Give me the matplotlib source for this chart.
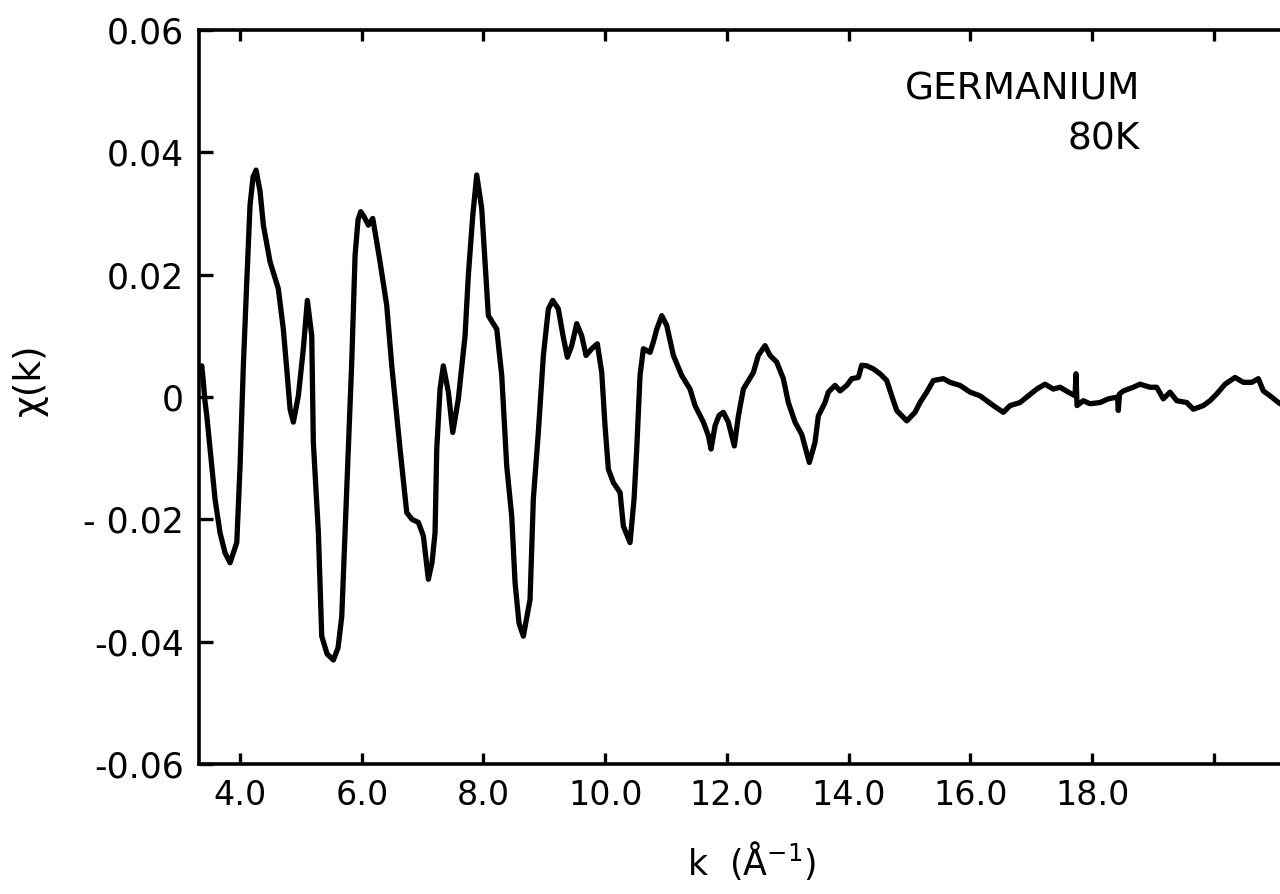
import matplotlib
matplotlib.use("Agg")
import matplotlib.pyplot as plt

# chi(k) for germanium at 80 K
k = [
    3.335, 3.371, 3.392, 3.425, 3.453, 3.535, 3.589, 3.671, 3.754, 3.836,
    3.946, 4.000, 4.054, 4.110, 4.164, 4.214, 4.263, 4.329, 4.383, 4.493,
    4.629, 4.711, 4.767, 4.822, 4.876, 4.958, 5.040, 5.106, 5.178, 5.204,
    5.287, 5.342, 5.430, 5.533, 5.610, 5.671, 5.725, 5.780, 5.835, 5.890,
    5.939, 5.983, 6.037, 6.108, 6.180, 6.235, 6.300, 6.410, 6.493, 6.629,
    6.739, 6.826, 6.930, 7.012, 7.094, 7.155, 7.204, 7.232, 7.286, 7.340,
    7.423, 7.495, 7.587, 7.697, 7.751, 7.824, 7.889, 7.971, 8.026, 8.080,
    8.218, 8.272, 8.300, 8.382, 8.464, 8.519, 8.584, 8.655, 8.765, 8.819,
    8.901, 8.984, 9.066, 9.138, 9.230, 9.307, 9.378, 9.450, 9.532, 9.614,
    9.685, 9.779, 9.871, 9.943, 9.997, 10.052, 10.134, 10.244, 10.298, 10.408,
    10.474, 10.518, 10.572, 10.627, 10.737, 10.791, 10.847, 10.929, 11.011, 11.120,
    11.258, 11.394, 11.476, 11.613, 11.695, 11.739, 11.805, 11.871, 11.941, 12.023,
    12.122, 12.188, 12.270, 12.434, 12.516, 12.626, 12.708, 12.819, 12.927, 13.009,
    13.119, 13.229, 13.354, 13.448, 13.502, 13.612, 13.666, 13.776, 13.859, 13.969,
    14.051, 14.159, 14.215, 14.297, 14.406, 14.516, 14.626, 14.708, 14.790, 14.955,
    15.091, 15.173, 15.283, 15.392, 15.556, 15.666, 15.830, 15.995, 16.159, 16.378,
    16.542, 16.652, 16.816, 16.953, 17.091, 17.227, 17.363, 17.473, 17.610, 17.720,
    17.736, 17.753, 17.856, 17.966, 18.131, 18.267, 18.418, 18.431, 18.451, 18.514,
    18.678, 18.788, 18.952, 19.062, 19.171, 19.281, 19.391, 19.555, 19.664, 19.828,
    19.938, 20.048, 20.185, 20.349, 20.486, 20.623, 20.732, 20.814, 20.924, 21.088,
]
chi = [
    0.0040, 0.0051, 0.0030, -0.0008, -0.0030, -0.0113, -0.0167, -0.0222, -0.0255, -0.0271,
    -0.0238, -0.0113, 0.0051, 0.0188, 0.0314, 0.0360, 0.0371, 0.0336, 0.0281, 0.0221,
    0.0177, 0.0111, 0.0046, -0.0020, -0.0041, 0.0002, 0.0079, 0.0158, 0.0100, -0.0074,
    -0.0222, -0.0391, -0.0420, -0.0430, -0.0410, -0.0359, -0.0222, -0.0085, 0.0057, 0.0232,
    0.0290, 0.0303, 0.0295, 0.0281, 0.0292, 0.0260, 0.0221, 0.0150, 0.0051, -0.0085,
    -0.0189, -0.0200, -0.0205, -0.0227, -0.0298, -0.0270, -0.0222, -0.0085, 0.0013, 0.0051,
    0.0008, -0.0058, -0.0003, 0.0100, 0.0199, 0.0297, 0.0363, 0.0308, 0.0221, 0.0133,
    0.0111, 0.0060, 0.0035, -0.0113, -0.0195, -0.0304, -0.0370, -0.0391, -0.0331, -0.0167,
    -0.0058, 0.0068, 0.0144, 0.0158, 0.0144, 0.0100, 0.0065, 0.0084, 0.0120, 0.0100,
    0.0068, 0.0079, 0.0087, 0.0040, -0.0047, -0.0118, -0.0140, -0.0156, -0.0211, -0.0238,
    -0.0167, -0.0085, 0.0035, 0.0079, 0.0073, 0.0090, 0.0111, 0.0133, 0.0117, 0.0068,
    0.0035, 0.0013, -0.0014, -0.0041, -0.0063, -0.0085, -0.0047, -0.0030, -0.0025, -0.0041,
    -0.0080, -0.0031, 0.0013, 0.0040, 0.0068, 0.0084, 0.0068, 0.0057, 0.0030, -0.0009,
    -0.0041, -0.0061, -0.0107, -0.0074, -0.0031, -0.0009, 0.0008, 0.0019, 0.0010, 0.0019,
    0.0030, 0.0032, 0.0052, 0.0051, 0.0046, 0.0038, 0.0027, 0.0002, -0.0022, -0.0039,
    -0.0025, -0.0009, 0.0008, 0.0027, 0.0030, 0.0024, 0.0019, 0.0008, 0.0002, -0.0014,
    -0.0025, -0.0014, -0.0009, 0.0002, 0.0013, 0.0021, 0.0013, 0.0016, 0.0008, 0.0002,
    0.0038, -0.0014, -0.0006, -0.0011, -0.0009, -0.0003, 0.0000, -0.0022, 0.0005, 0.0010,
    0.0016, 0.0021, 0.0016, 0.0016, -0.0003, 0.0008, -0.0006, -0.0009, -0.0020, -0.0014,
    -0.0006, 0.0005, 0.0021, 0.0032, 0.0024, 0.0024, 0.0030, 0.0010, 0.0002, -0.0011,
]

x_ticks = [4, 6, 8, 10, 12, 14, 16, 18, 20]
x_tick_labels = ["4.0", "6.0", "8.0", "10.0", "12.0", "14.0", "16.0", "18.0", ""]
y_ticks = [-0.06, -0.04, -0.02, 0.0, 0.02, 0.04, 0.06]
y_tick_labels = ["-0.06", "-0.04", "- 0.02", "0", "0.02", "0.04", "0.06"]

plt.rcParams["font.family"] = ["DejaVu Sans"]

fig = plt.figure(figsize=(12.8, 8.94), dpi=100)
ax = fig.add_axes([0.1555, 0.1454, 0.8484, 0.8210])

ax.plot(k, chi, color="black", linewidth=3.8,
        solid_joinstyle="round", solid_capstyle="round")

ax.set_xlim(3.326, 21.17)
ax.set_ylim(-0.06, 0.06)
ax.set_xticks(x_ticks, x_tick_labels)
ax.set_yticks(y_ticks, y_tick_labels)

ax.tick_params(axis="x", direction="in", length=8, width=2.4, pad=11,
               labelsize=24, top=True)
ax.tick_params(axis="y", direction="in", length=10, width=2.4, pad=11,
               labelsize=25, right=False)
for side in ("left", "bottom", "top"):
    ax.spines[side].set_linewidth(2.6)
ax.spines["right"].set_visible(False)

fig.text(752 / 1280, 1 - 860 / 894, "k  (Å$^{-1}$)", fontsize=25,
         ha="center", va="center")
fig.text(30 / 1280, 1 - 380 / 894, "χ(k)", fontsize=27, rotation=90,
         ha="center", va="center")

fig.text(1140 / 1280, 1 - 89 / 894, "GERMANIUM", fontsize=27,
         ha="right", va="center")
fig.text(1140 / 1280, 1 - 140 / 894, "80K", fontsize=27,
         ha="right", va="center")

fig.savefig("out.png", dpi=100, facecolor="white")
plt.close(fig)
